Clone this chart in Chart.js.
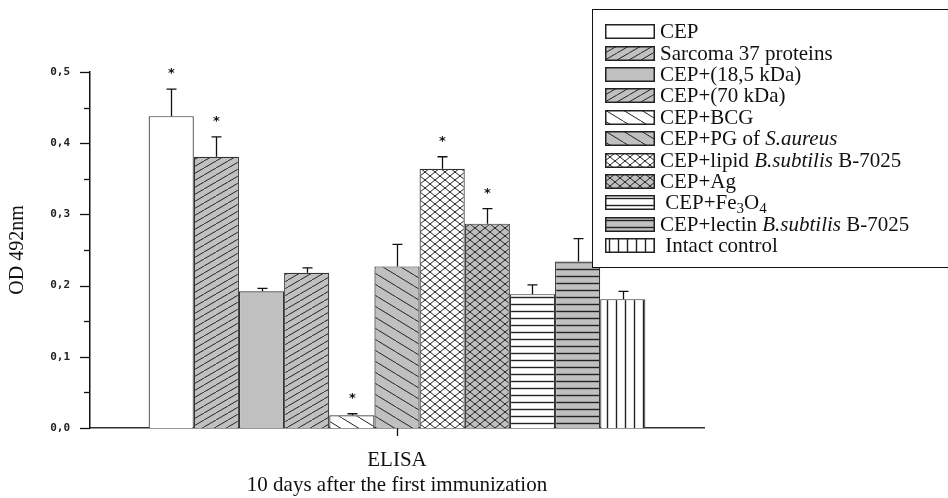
<!DOCTYPE html>
<html>
<head>
<meta charset="utf-8">
<script src="https://cdn.jsdelivr.net/npm/chart.js@4"></script>
<style>
  body { margin: 0; background: #fff; }
  #wrap { position: relative; width: 948px; height: 498px; overflow: hidden; }
  #legend {
    position: absolute; left: 592px; top: 9px; width: 400px; height: 259px;
    box-sizing: border-box; border: 1.5px solid #111; background: #fff;
    padding-top: 11px;
    font-family: "Liberation Serif", "Times New Roman", serif; font-size: 21px; color: #111;
  }
  .row { display: flex; align-items: center; height: 21.4px; white-space: nowrap; }
  .row canvas { margin-left: 12px; margin-right: 5px; flex: none; }
  .row sub { font-size: 15px; vertical-align: -4px; line-height: 0; }
</style>
</head>
<body>
<div id="wrap">
  <canvas id="chart"></canvas>
  <div id="legend"></div>
</div>
<script>
const categories = ["ELISA"];
const seriesNames = [
  "CEP",
  "Sarcoma 37 proteins",
  "CEP+(18,5 kDa)",
  "CEP+(70 kDa)",
  "CEP+BCG",
  "CEP+PG of <i>S.aureus</i>",
  "CEP+lipid <i>B.subtilis</i> B-7025",
  "CEP+Ag",
  "&nbsp;CEP+Fe<sub>3</sub>O<sub>4</sub>",
  "CEP+lectin <i>B.subtilis</i> B-7025",
  "&nbsp;Intact control",
];
const means = [0.438, 0.381, 0.192, 0.218, 0.018, 0.227, 0.364, 0.287, 0.188, 0.234, 0.181];
const errors = [0.038, 0.028, 0.004, 0.007, 0.002, 0.031, 0.017, 0.021, 0.013, 0.032, 0.011];
const significant = [true, true, false, false, true, false, true, true, false, false, false];

// fill style per series: [hatch kind, background]
const GRAY = "#c0c0c0";
const fills = [
  ["none", "#fff"],
  ["fwd", GRAY],
  ["none", GRAY],
  ["fwd", GRAY],
  ["back", "#fff"],
  ["back", GRAY],
  ["cross", "#fff"],
  ["cross", GRAY],
  ["horiz", "#fff"],
  ["horiz", GRAY],
  ["vert", "#fff"],
];

function makeTile(kind, bg) {
  const sizes = { fwd: [12, 7], back: [18, 11], cross: [10, 8], horiz: [8, 7], vert: [9, 8] };
  const [w, h] = sizes[kind];
  const c = document.createElement("canvas");
  c.width = w;
  c.height = h;
  const g = c.getContext("2d");
  g.fillStyle = bg;
  g.fillRect(0, 0, w, h);
  g.strokeStyle = "#222";
  g.lineWidth = 1;
  g.beginPath();
  if (kind === "fwd" || kind === "cross") {
    g.moveTo(-w, 2 * h);
    g.lineTo(2 * w, -h);
  }
  if (kind === "back" || kind === "cross") {
    g.moveTo(-w, -h);
    g.lineTo(2 * w, 2 * h);
  }
  if (kind === "horiz") {
    g.lineWidth = 1.4;
    g.moveTo(0, 3.5);
    g.lineTo(w, 3.5);
  }
  if (kind === "vert") {
    g.lineWidth = 1.4;
    g.moveTo(4.5, 0);
    g.lineTo(4.5, h);
  }
  g.stroke();
  return c;
}

function fillFor(ctx, i) {
  const [kind, bg] = fills[i];
  if (kind === "none") return bg;
  return ctx.createPattern(makeTile(kind, bg), "repeat");
}

// legend
const legend = document.getElementById("legend");
seriesNames.forEach((name, i) => {
  const row = document.createElement("div");
  row.className = "row";
  const sw = document.createElement("canvas");
  sw.width = 50;
  sw.height = 15;
  const g = sw.getContext("2d");
  g.fillStyle = fillFor(g, i);
  g.fillRect(0, 0, 50, 15);
  g.strokeStyle = "#222";
  g.lineWidth = 1.5;
  g.strokeRect(0.75, 0.75, 48.5, 13.5);
  const label = document.createElement("span");
  label.innerHTML = name;
  row.appendChild(sw);
  row.appendChild(label);
  legend.appendChild(row);
});

const extras = {
  id: "extras",
  afterDraw(chart) {
    const { ctx, scales } = chart;
    const y = scales.y;
    const x = scales.x;
    ctx.save();
    ctx.strokeStyle = "#111";
    ctx.lineWidth = 1.3;
    // y ticks (major / minor)
    y.ticks.forEach((t) => {
      const py = Math.round(y.getPixelForValue(t.value)) + 0.5;
      const major = Math.abs(t.value * 10 - Math.round(t.value * 10)) < 1e-6;
      ctx.beginPath();
      ctx.moveTo(y.right - (major ? 10 : 6), py);
      ctx.lineTo(y.right, py);
      ctx.stroke();
    });
    // x tick
    const px = Math.round(x.getPixelForValue(0)) + 0.5;
    ctx.beginPath();
    ctx.moveTo(px, x.top);
    ctx.lineTo(px, x.top + 8);
    ctx.stroke();
    ctx.restore();
  },
  afterDatasetsDraw(chart) {
    const { ctx, scales } = chart;
    const y = scales.y;
    ctx.save();
    ctx.strokeStyle = "#111";
    ctx.lineWidth = 1.3;
    ctx.fillStyle = "#111";
    ctx.font = "bold 13px 'DejaVu Sans'";
    ctx.textAlign = "center";
    ctx.textBaseline = "middle";
    means.forEach((m, i) => {
      const bar = chart.getDatasetMeta(i).data[0];
      const cx = Math.round(bar.x) + 0.5;
      const top = y.getPixelForValue(m + errors[i]);
      ctx.beginPath();
      ctx.moveTo(cx, bar.y);
      ctx.lineTo(cx, top);
      ctx.moveTo(cx - 5, top);
      ctx.lineTo(cx + 5, top);
      ctx.stroke();
      if (significant[i]) {
        ctx.fillText("*", cx, top - 15);
      }
    });
    ctx.restore();
  },
};

const ctx = document.getElementById("chart").getContext("2d");
const chart = new Chart(ctx, {
  type: "bar",
  data: {
    labels: categories,
    datasets: seriesNames.map((name, i) => ({
      label: name.replace(/<[^>]+>|&nbsp;/g, ""),
      data: [means[i]],
      backgroundColor: fillFor(ctx, i),
      borderColor: "#333",
      borderWidth: 1.2,
      borderSkipped: "bottom",
      categoryPercentage: 0.809,
      barPercentage: 1,
    })),
  },
  options: {
    responsive: true,
    maintainAspectRatio: false,
    animation: false,
    layout: { padding: { left: 0, top: 72, right: 244, bottom: 0 } },
    plugins: {
      legend: { display: false },
      tooltip: { enabled: false },
    },
    scales: {
      x: {
        afterFit: (s) => { s.height = 70; },
        grid: { display: false, drawTicks: false },
        border: { display: true, color: "#333", width: 1.5 },
        ticks: {
          padding: 20,
          color: "#111",
          font: { family: "'Liberation Serif'", size: 21 },
        },
        title: {
          display: true,
          text: "10 days after the first immunization",
          color: "#111",
          font: { family: "'Liberation Serif'", size: 21 },
          padding: { top: 0, bottom: 0 },
        },
      },
      y: {
        min: 0,
        max: 0.5,
        afterFit: (s) => { s.width = 90; },
        grid: { display: false, drawTicks: false },
        border: { display: true, color: "#111", width: 1.5 },
        ticks: {
          stepSize: 0.05,
          padding: 20,
          color: "#222",
          font: { family: "'DejaVu Sans Mono'", size: 11, weight: "bold" },
          callback: (v) =>
            Math.abs(v * 10 - Math.round(v * 10)) < 1e-6 ? v.toFixed(1).replace(".", ",") : "",
        },
        title: {
          display: true,
          text: "OD 492nm",
          color: "#111",
          font: { family: "'Liberation Serif'", size: 20 },
          padding: { top: 6, bottom: 0 },
        },
      },
    },
  },
  plugins: [extras],
});
</script>
</body>
</html>
